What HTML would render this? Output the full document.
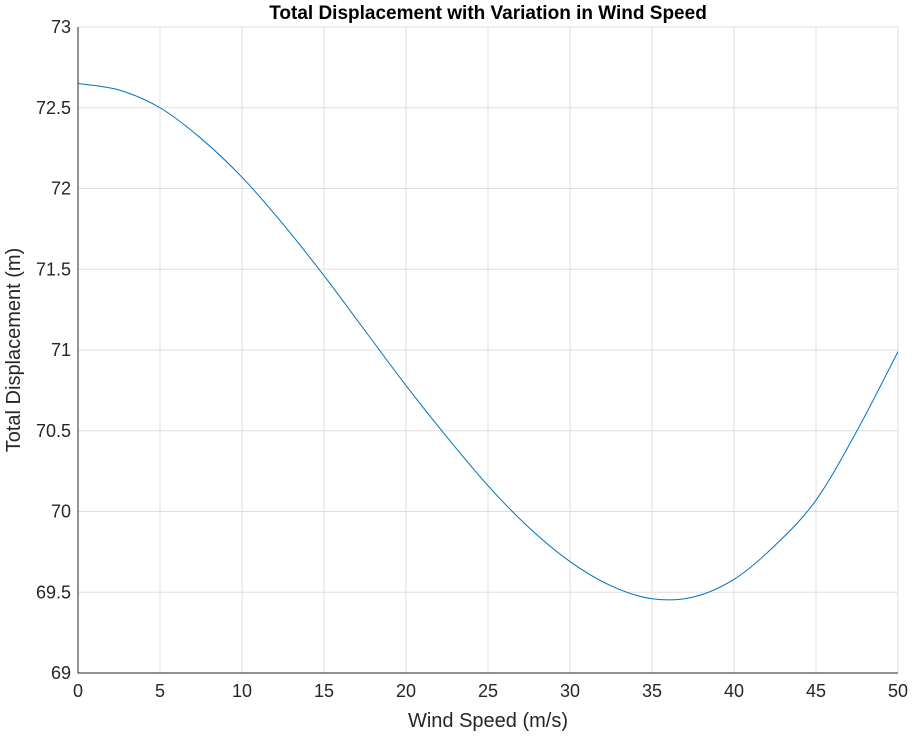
<!DOCTYPE html>
<html><head><meta charset="utf-8"><style>body{margin:0;background:#fff}svg{display:block;font-family:"Liberation Sans",sans-serif}</style></head>
<body>
<svg id="chart" width="912" height="736"></svg>
<script>
const xValues=[0,2.5,5,7.5,10,12.5,15,17.5,20,22.5,25,27.5,30,32.5,35,37.5,40,42.5,45,47.5,50];
const yValues=[72.65,72.61,72.50,72.31,72.07,71.78,71.46,71.12,70.78,70.46,70.16,69.90,69.69,69.54,69.46,69.47,69.58,69.79,70.07,70.50,70.99];
const xTicks=[0,5,10,15,20,25,30,35,40,45,50];
const yTicks=[69,69.5,70,70.5,71,71.5,72,72.5,73];
const L=78,R=898,T=27,B=673;
const sx=v=>L+(v-0)/50*(R-L), sy=v=>B-(v-69)/4*(B-T);
const svg=document.getElementById('chart');const NS='http://www.w3.org/2000/svg';
function mk(t,a,txt){const e=document.createElementNS(NS,t);for(const k in a)e.setAttribute(k,a[k]);if(txt!==undefined)e.textContent=txt;svg.appendChild(e);return e;}
let e=mk('rect',{x:L,y:T,width:R-L,height:B-T,fill:'#fff'});


xTicks.forEach(v=>{const g=mk('line',{x1:sx(v),x2:sx(v),y1:T,y2:B,stroke:'#dfdfdf','stroke-width':1});


const t=mk('text',{x:sx(v),y:B+24,'text-anchor':'middle','font-size':18,fill:'#262626'},String(v));

});
yTicks.forEach(v=>{const g=mk('line',{x1:L,x2:R,y1:sy(v),y2:sy(v),stroke:'#dfdfdf','stroke-width':1});


const t=mk('text',{x:L-7,y:sy(v)+6,'text-anchor':'end','font-size':18,fill:'#262626'},String(v));

});
const ax=mk('path',{d:`M${L},${T}V${B}H${R}`,fill:'none',stroke:'#262626','stroke-width':1});


const P=xValues.map((x,i)=>[sx(x),sy(yValues[i])]);
let d=`M${P[0][0]},${P[0][1]}`;
for(let i=0;i<P.length-1;i++){const p0=P[Math.max(i-1,0)],p1=P[i],p2=P[i+1],p3=P[Math.min(i+2,P.length-1)];
d+=`C${p1[0]+(p2[0]-p0[0])/6},${p1[1]+(p2[1]-p0[1])/6} ${p2[0]-(p3[0]-p1[0])/6},${p2[1]-(p3[1]-p1[1])/6} ${p2[0]},${p2[1]}`;}
const ln=mk('path',{d:d,fill:'none',stroke:'#0072bd','stroke-width':1});


const ti=mk('text',{x:488,y:19,'text-anchor':'middle','font-size':19,'font-weight':'bold',fill:'#000'},'Total Displacement with Variation in Wind Speed');


const xl=mk('text',{x:488,y:727,'text-anchor':'middle','font-size':20,fill:'#262626'},'Wind Speed (m/s)');


const yl=mk('text',{x:0,y:0,transform:'translate(20,350) rotate(-90)','text-anchor':'middle','font-size':20,fill:'#262626'},'Total Displacement (m)');


</script>
</body></html>
